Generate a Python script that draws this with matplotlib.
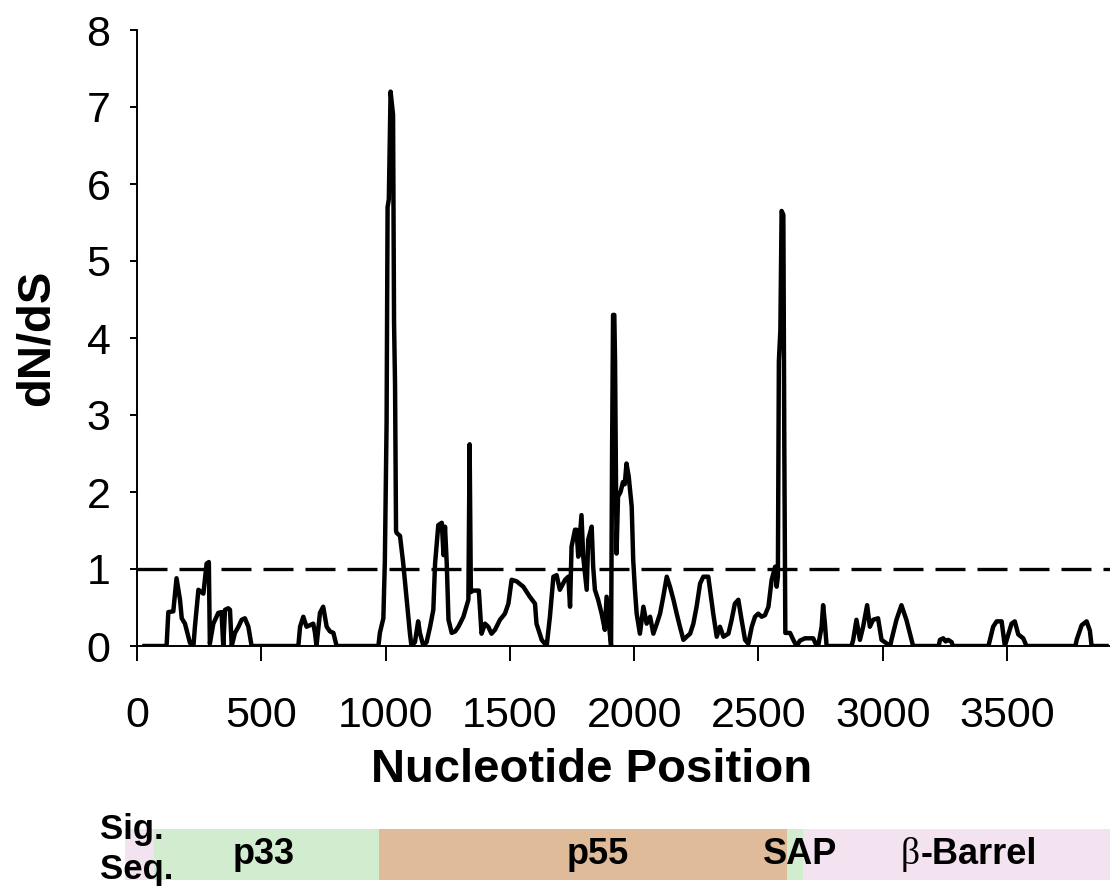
import numpy as np
import matplotlib.pyplot as plt

plt.rcParams['font.family'] = ['Liberation Sans', 'DejaVu Sans']

# sliding window dN/dS along the gene
pos = [30, 119, 126, 146, 159, 173, 180, 193, 213, 227, 233, 247, 267, 280, 289, 293, 307, 327, 340, 347,
       354, 367, 374, 381, 394, 408, 421, 434, 448, 461, 649, 656, 669, 682, 696, 709, 716, 722, 736, 749,
       763, 776, 790, 803, 971, 977, 991, 997, 1004, 1008, 1013, 1020, 1030, 1034, 1038, 1042, 1044, 1058,
       1071, 1085, 1098, 1104, 1118, 1131, 1138, 1152, 1165, 1179, 1192, 1199, 1212, 1226, 1233, 1239, 1246,
       1253, 1266, 1280, 1293, 1313, 1333, 1338, 1343, 1352, 1375, 1386, 1400, 1413, 1426, 1440, 1460, 1480,
       1494, 1507, 1527, 1554, 1580, 1601, 1607, 1628, 1648, 1661, 1675, 1688, 1701, 1722, 1735, 1742, 1748,
       1762, 1768, 1775, 1788, 1795, 1809, 1815, 1829, 1835, 1842, 1855, 1869, 1882, 1889, 1902, 1907, 1911,
       1915, 1920, 1923, 1929, 1935, 1945, 1955, 1962, 1969, 1978, 1990, 1996, 2003, 2010, 2023, 2037, 2050,
       2064, 2077, 2091, 2104, 2117, 2131, 2144, 2158, 2171, 2184, 2198, 2211, 2225, 2238, 2251, 2265, 2278,
       2298, 2305, 2318, 2332, 2345, 2359, 2379, 2392, 2405, 2419, 2432, 2446, 2459, 2473, 2486, 2499, 2513,
       2526, 2540, 2553, 2567, 2573, 2578, 2582, 2588, 2593, 2600, 2604, 2608, 2627, 2640, 2653, 2667, 2687,
       2720, 2734, 2740, 2754, 2760, 2767, 2774, 2874, 2881, 2894, 2908, 2921, 2937, 2948, 2961, 2981, 2995,
       3030, 3035, 3055, 3075, 3095, 3116, 3122, 3225, 3230, 3243, 3253, 3263, 3277, 3282, 3425, 3431, 3444,
       3458, 3478, 3491, 3518, 3531, 3545, 3565, 3578, 3775, 3780, 3800, 3820, 3833, 3840, 3900]
dnds = [0, 0, 0.44, 0.45, 0.88, 0.6, 0.36, 0.29, 0.04, 0, 0.25, 0.73, 0.68, 1.07, 1.09, 0.03, 0.29, 0.43, 0.44, 0,
        0.47, 0.49, 0.47, 0, 0.17, 0.25, 0.34, 0.36, 0.25, 0, 0, 0.25, 0.38, 0.25, 0.27, 0.29, 0.17, 0, 0.43, 0.51,
        0.25, 0.19, 0.17, 0, 0, 0.17, 0.36, 1.1, 2.9, 5.7, 5.8, 7.2, 6.9, 4.2, 3.4, 1.5, 1.47, 1.43,
        1.07, 0.6, 0.16, 0, 0.05, 0.32, 0.17, 0, 0.05, 0.25, 0.47, 1.07, 1.57, 1.6, 1.18, 1.55, 1.07,
        0.34, 0.17, 0.19, 0.25, 0.38, 0.6, 2.62, 0.7, 0.72, 0.72, 0.16, 0.29, 0.25, 0.16, 0.21, 0.34, 0.42,
        0.55, 0.86, 0.84, 0.77, 0.64, 0.55, 0.29, 0.08, 0, 0.38, 0.9, 0.92, 0.73, 0.86, 0.9, 0.51, 1.29,
        1.51, 1.51, 1.16, 1.7, 1.16, 0.73, 1.38, 1.55, 1.03, 0.73, 0.6, 0.42, 0.21, 0.64, 0.16, 0, 2.5,
        4.3, 4.3, 3.7, 1.2, 1.94, 2.0, 2.13, 2.1, 2.37, 2.2, 1.81, 1.12, 0.73, 0.42, 0.16, 0.51, 0.29,
        0.38, 0.16, 0.29, 0.42, 0.64, 0.9, 0.77, 0.6, 0.42, 0.25, 0.08, 0.12, 0.16, 0.29, 0.51, 0.81, 0.9,
        0.9, 0.73, 0.42, 0.12, 0.25, 0.12, 0.16, 0.34, 0.55, 0.6, 0.34, 0.08, 0.03, 0.25, 0.38, 0.42, 0.38,
        0.4, 0.51, 0.86, 1.03, 0.77, 0.9, 3.7, 4.1, 5.65, 5.6, 2.5, 0.17, 0.17, 0.08, 0, 0.07, 0.1,
        0.1, 0, 0, 0.25, 0.53, 0.3, 0, 0, 0.08, 0.34, 0.08, 0.25, 0.53, 0.25, 0.34, 0.36, 0.08,
        0, 0.08, 0.34, 0.53, 0.34, 0.08, 0, 0, 0.08, 0.1, 0.06, 0.08, 0.05, 0, 0, 0.08, 0.25,
        0.32, 0.32, 0, 0.29, 0.32, 0.15, 0.1, 0, 0, 0.08, 0.27, 0.32, 0.2, 0, 0]

xticks = [0, 500, 1000, 1500, 2000, 2500, 3000, 3500]

# protein domains (start, end in nucleotides), label, colour
dom_start = [-50, 70, 975, 2615, 2680]
dom_end = [70, 975, 2615, 2680, 3915]
dom_color = ['#f3e2ef', '#d2ecd0', '#e0bb9a', '#d2ecd0', '#f3e2ef']

fig = plt.figure(figsize=(11.1, 8.92), dpi=100)
ax = fig.add_axes([137/1110, 246/892, 973/1110, 616/892])

ax.plot(pos, dnds, color='black', lw=3.2, solid_joinstyle='round')
ax.axhline(1, color='black', lw=2.4, dashes=(9, 3.6))

ax.set_xlim(0, 3914)
ax.set_ylim(0, 8)
ax.set_xticks(xticks)
ax.set_xticklabels([str(t) for t in xticks], fontsize=31)
ax.set_yticks(range(9))
ax.set_yticklabels([str(t) for t in range(9)], fontsize=31)
ax.tick_params(axis='x', length=11, width=1.4, pad=25)
ax.tick_params(axis='y', length=5, width=1.4, pad=14)
ax.spines['top'].set_visible(False)
ax.spines['right'].set_visible(False)
ax.spines['left'].set_linewidth(1.4)
ax.spines['bottom'].set_linewidth(1.4)
ax.set_xlabel('Nucleotide Position', fontsize=34, fontweight='bold')
ax.xaxis.set_label_coords(0.467, -0.165)
ax.set_ylabel('dN/dS', fontsize=34, fontweight='bold', labelpad=20)

# domain bar below
bx = fig.add_axes([137/1110, 12/892, 973/1110, 51/892])
bx.barh(0, np.array(dom_end) - np.array(dom_start), left=dom_start, height=1,
        color=dom_color, clip_on=False)
bx.set_xlim(0, 3914)
bx.set_ylim(-0.5, 0.5)
bx.axis('off')

fs = 26
fig.text(100/1110, 1 - 830/892, 'Sig.', fontsize=25, fontweight='bold', va='center')
fig.text(100/1110, 1 - 870/892, 'Seq.', fontsize=25, fontweight='bold', va='center')
fig.text(264/1110, 1 - 855/892, 'p33', fontsize=fs, fontweight='bold', ha='center', va='center')
fig.text(598/1110, 1 - 855/892, 'p55', fontsize=fs, fontweight='bold', ha='center', va='center')
fig.text(800/1110, 1 - 855/892, 'SAP', fontsize=fs, fontweight='bold', ha='center', va='center')
fig.text(910/1110, 1 - 855/892, '\u03b2', fontsize=fs + 1, family='Liberation Serif', ha='center', va='center')
fig.text(921/1110, 1 - 855/892, '-Barrel', fontsize=fs, fontweight='bold', ha='left', va='center')

fig.savefig('out.png', dpi=100)
